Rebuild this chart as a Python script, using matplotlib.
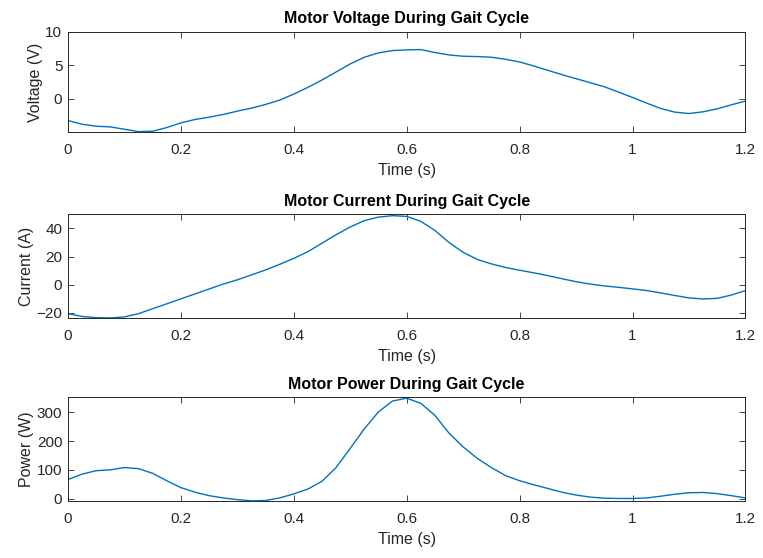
import matplotlib
matplotlib.use("Agg")
import matplotlib.pyplot as plt

plt.rcParams["font.family"] = ["Liberation Sans", "DejaVu Sans"]

# sample times (s)
time = [0.000, 0.025, 0.050, 0.075, 0.100, 0.125, 0.150, 0.175, 0.200, 0.225,
        0.250, 0.275, 0.300, 0.325, 0.350, 0.375, 0.400, 0.425, 0.450, 0.475,
        0.500, 0.525, 0.550, 0.575, 0.600, 0.625, 0.650, 0.675, 0.700, 0.725,
        0.750, 0.775, 0.800, 0.825, 0.850, 0.875, 0.900, 0.925, 0.950, 0.975,
        1.000, 1.025, 1.050, 1.075, 1.100, 1.125, 1.150, 1.175, 1.200]

voltage = [-3.25, -3.8, -4.1, -4.2, -4.55, -4.9, -4.85, -4.3, -3.6, -3.1,
           -2.75, -2.35, -1.85, -1.4, -0.85, -0.2, 0.7, 1.7, 2.8, 4.0,
           5.2, 6.2, 6.85, 7.2, 7.3, 7.35, 6.9, 6.55, 6.35, 6.3,
           6.2, 5.9, 5.5, 4.9, 4.25, 3.6, 3.0, 2.4, 1.8, 1.0,
           0.2, -0.65, -1.45, -2.0, -2.2, -1.95, -1.5, -0.9, -0.35]

current = [-20.4, -22.5, -23.3, -23.5, -22.8, -20.5, -17.0, -13.5, -10.0, -6.5,
           -3.0, 0.5, 3.5, 7.0, 10.5, 14.5, 18.7, 23.5, 29.5, 35.5,
           41.0, 45.5, 48.0, 49.0, 48.5, 45.0, 38.5, 30.0, 23.0, 18.0,
           14.8, 12.3, 10.3, 8.5, 6.5, 4.3, 2.2, 0.5, -0.8, -1.8,
           -2.9, -4.1, -5.8, -7.6, -9.3, -10.1, -9.6, -7.3, -4.1]

power = [66, 85, 97, 100, 108, 104, 88, 62, 38, 22,
         10, 2, -4, -8, -7, 2, 16, 33, 60, 108,
         175, 243, 302, 340, 350, 332, 290, 228, 180, 140,
         108, 80, 62, 48, 35, 22, 12, 5, 1, 0,
         0, 2, 8, 15, 20, 21, 17, 10, 2]

xticks = [0, 0.2, 0.4, 0.6, 0.8, 1.0, 1.2]
xticklabels = ["0", "0.2", "0.4", "0.6", "0.8", "1", "1.2"]

panels = [
    (voltage, "Motor Voltage During Gait Cycle", "Voltage (V)", (-5, 10), [0, 5, 10]),
    (current, "Motor Current During Gait Cycle", "Current (A)", (-23.6, 50), [-20, 0, 20, 40]),
    (power, "Motor Power During Gait Cycle", "Power (W)", (-9, 353), [0, 100, 200, 300]),
]

# axes boxes in figure fractions [left, bottom, width, height]
boxes = [
    [0.089, 0.763, 0.888, 0.180],
    [0.089, 0.430, 0.888, 0.186],
    [0.089, 0.102, 0.888, 0.186],
]

grey = "#262626"
fig = plt.figure(figsize=(7.63, 5.58), dpi=100)

for (vals, title, ylabel, ylim, yticks), box in zip(panels, boxes):
    ax = fig.add_axes(box)
    ax.plot(time, vals, color="#0072BD", linewidth=1.0)
    ax.set_xlim(0, 1.2)
    ax.set_ylim(*ylim)
    ax.set_xticks(xticks)
    ax.set_xticklabels(xticklabels)
    ax.set_yticks(yticks)
    ax.tick_params(direction="in", length=4, width=0.6, colors=grey,
                   labelsize=11, top=True, right=True)
    ax.tick_params(axis="x", pad=8)
    ax.tick_params(axis="y", pad=4)
    for s in ax.spines.values():
        s.set_color(grey)
        s.set_linewidth(0.7)
    ax.set_title(title, fontsize=11.5, fontweight="bold", color="black", pad=6)
    ax.set_xlabel("Time (s)", fontsize=11.5, color=grey, labelpad=4)
    ax.set_ylabel(ylabel, fontsize=11.5, color=grey, labelpad=2)

fig.savefig("out.png", dpi=100)
